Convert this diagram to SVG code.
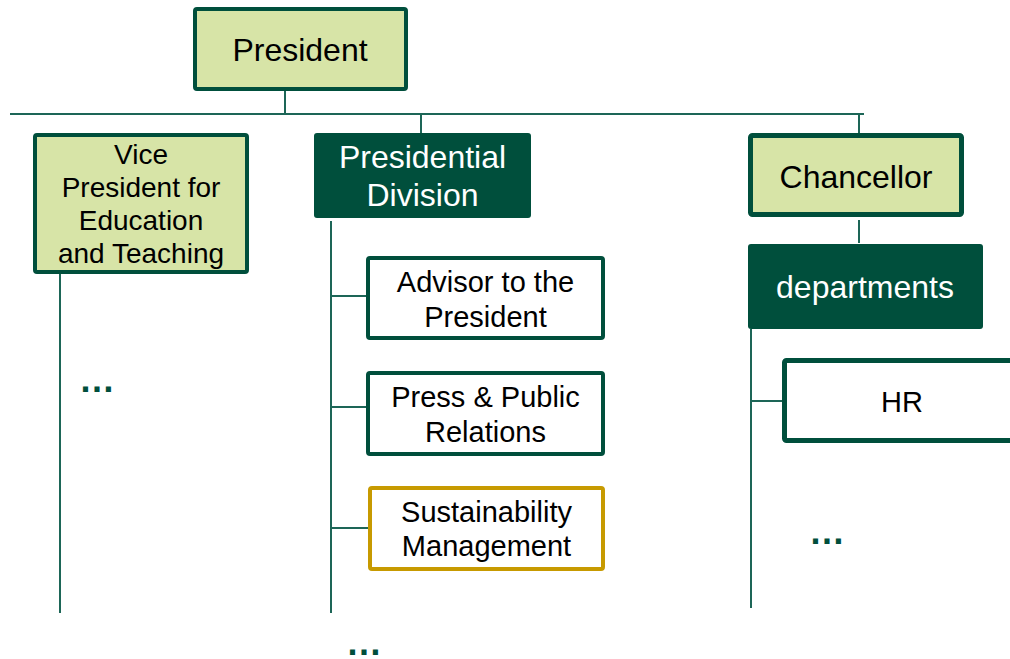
<svg xmlns="http://www.w3.org/2000/svg" width="1010" height="659" viewBox="0 0 1010 659">
<style>
.lt{fill:#d7e4a7;stroke:#004f3c;stroke-width:4}
.dk{fill:#004f3c;stroke:none}
.wh{fill:#ffffff;stroke:#004f3c;stroke-width:4}
.gd{fill:#ffffff;stroke:#c79a00;stroke-width:4}
.t{font-family:"Liberation Sans",Arial,sans-serif;text-anchor:middle;fill:#000}
.tw{font-family:"Liberation Sans",Arial,sans-serif;text-anchor:middle;fill:#fff}
.ln{stroke:#1d6657;stroke-width:2;fill:none}
.dots{font-family:"Liberation Sans",Arial,sans-serif;font-weight:bold;fill:#004f3c;font-size:36px}
</style>
<rect width="1010" height="659" fill="#fff"/>
<g id="connectors">
<line class="ln" x1="285" y1="91" x2="285" y2="114"/>
<line class="ln" x1="10" y1="114" x2="864" y2="114"/>
<line class="ln" x1="421" y1="114" x2="421" y2="133"/>
<line class="ln" x1="859" y1="114" x2="859" y2="134"/>
<line class="ln" x1="60" y1="274" x2="60" y2="613"/>
<line class="ln" x1="331" y1="221" x2="331" y2="613"/>
<line class="ln" x1="331" y1="296" x2="368" y2="296"/>
<line class="ln" x1="331" y1="407" x2="368" y2="407"/>
<line class="ln" x1="331" y1="528" x2="370" y2="528"/>
<line class="ln" x1="859" y1="220" x2="859" y2="243"/>
<line class="ln" x1="751" y1="329" x2="751" y2="608"/>
<line class="ln" x1="751" y1="401" x2="788" y2="401"/>
</g>
<g id="president">
<rect class="lt" x="195" y="9" width="211" height="80" rx="2"/>
<text class="t" x="300" y="61" font-size="32">President</text>
</g>
<g id="vp">
<rect class="lt" x="35" y="135" width="212" height="137" rx="2"/>
<text class="t" font-size="28"><tspan x="141" y="164">Vice</tspan><tspan x="141" y="197">President for</tspan><tspan x="141" y="230">Education</tspan><tspan x="141" y="263">and Teaching</tspan></text>
</g>
<g id="presidential-division">
<rect class="dk" x="314" y="133" width="217" height="85" rx="3"/>
<text class="tw" font-size="32"><tspan x="422.5" y="168">Presidential</tspan><tspan x="422.5" y="206">Division</tspan></text>
</g>
<g id="chancellor">
<rect class="lt" x="750.5" y="135.5" width="211" height="79" rx="2" style="stroke-width:5"/>
<text class="t" x="856" y="188" font-size="32">Chancellor</text>
</g>
<g id="departments">
<rect class="dk" x="748" y="244" width="235" height="85" rx="3"/>
<text class="tw" x="865" y="298" font-size="32">departments</text>
</g>
<g id="advisor">
<rect class="wh" x="368" y="258" width="235" height="80" rx="2"/>
<text class="t" font-size="29"><tspan x="485.5" y="292">Advisor to the</tspan><tspan x="485.5" y="327">President</tspan></text>
</g>
<g id="press">
<rect class="wh" x="368" y="373" width="235" height="81" rx="2"/>
<text class="t" font-size="29"><tspan x="485.5" y="407">Press &amp; Public</tspan><tspan x="485.5" y="442">Relations</tspan></text>
</g>
<g id="sustainability">
<rect class="gd" x="370" y="488" width="233" height="81" rx="2"/>
<text class="t" font-size="29"><tspan x="486.5" y="522">Sustainability</tspan><tspan x="486.5" y="556">Management</tspan></text>
</g>
<g id="hr">
<rect class="wh" x="784.5" y="360.5" width="240" height="80" rx="2" style="stroke-width:5"/>
<text class="t" x="902" y="412" font-size="29">HR</text>
</g>
<g id="ellipses">
<text class="dots" x="79" y="392">…</text>
<text class="dots" x="346" y="655">…</text>
<text class="dots" x="809" y="544">…</text>
</g>
</svg>
